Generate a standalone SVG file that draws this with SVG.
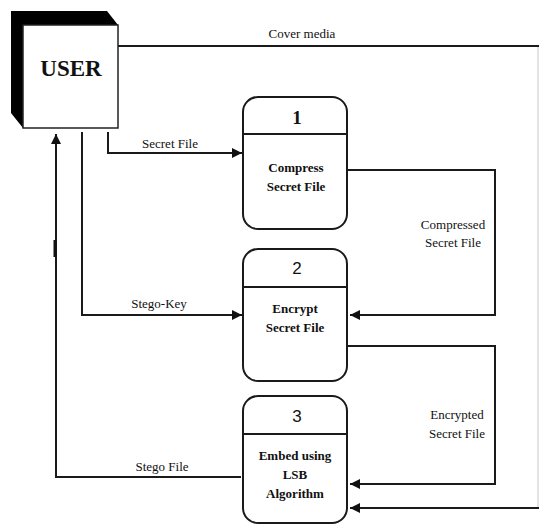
<svg xmlns="http://www.w3.org/2000/svg" width="539" height="525" viewBox="0 0 539 525">
<style>
.ln{fill:none;stroke:#1a1a1a;stroke-width:2}
.box{fill:#fff;stroke:#1a1a1a;stroke-width:2}
.lbl{font-family:'Liberation Serif','Times New Roman','DejaVu Serif',serif;font-size:13px;fill:#111;text-anchor:middle}
.bl{font-family:'Liberation Serif','Times New Roman','DejaVu Serif',serif;font-size:13px;font-weight:bold;fill:#111;text-anchor:middle}
.num{font-family:'Liberation Sans',Arial,sans-serif;font-size:17px;fill:#111;text-anchor:middle}
.big{font-family:'Liberation Serif','Times New Roman','DejaVu Serif',serif;font-weight:bold;fill:#111;text-anchor:middle}
</style>
<defs>
<marker id="ah" viewBox="0 0 10 10" refX="10" refY="5" markerWidth="5" markerHeight="5" orient="auto">
<path d="M0,0L10,5L0,10z" fill="#111"/>
</marker>
</defs>
<rect width="539" height="525" fill="#fff"/>
<g id="connectors">
<line x1="538" y1="46" x2="538" y2="508" stroke="#c8c8c8" stroke-width="1"/>
<path class="ln" d="M118,46H539"/>
<path class="ln" d="M108,132V153H242" marker-end="url(#ah)"/>
<path class="ln" d="M82,132V315H242" marker-end="url(#ah)"/>
<path class="ln" d="M241,477H56V134" marker-end="url(#ah)"/>
<rect x="53.5" y="240" width="3" height="17" fill="#111"/>
<path class="ln" d="M348,170H495V315H350" marker-end="url(#ah)"/>
<path class="ln" d="M348,346H495V484H350" marker-end="url(#ah)"/>
<path class="ln" d="M539,508H350" marker-end="url(#ah)"/>
<text class="lbl" x="302" y="38">Cover media</text>
<text class="lbl" x="170" y="148">Secret File</text>
<text class="lbl" x="159" y="308">Stego-Key</text>
<text class="lbl" x="162" y="471">Stego File</text>
<text class="lbl" x="453" y="229">Compressed</text>
<text class="lbl" x="453" y="247">Secret File</text>
<text class="lbl" x="457" y="419">Encrypted</text>
<text class="lbl" x="457" y="438">Secret File</text>
</g>
<g id="user">
<polygon points="11,11 107,11 118,25 23,25 23,128 11,113" fill="#000"/>
<rect x="23" y="25" width="95" height="103" fill="#fff" stroke="#222" stroke-width="1.5"/>
<text class="big" x="71" y="76" font-size="23">USER</text>
</g>
<g id="p1">
<rect class="box" x="243" y="97" width="104" height="132" rx="15"/>
<line class="ln" x1="243" y1="134" x2="347" y2="134"/>
<text class="big" x="297" y="124" font-size="19">1</text>
<text class="bl" x="296" y="172">Compress</text>
<text class="bl" x="296" y="191">Secret File</text>
</g>
<g id="p2">
<rect class="box" x="243" y="249" width="104" height="132" rx="15"/>
<line class="ln" x1="243" y1="287" x2="347" y2="287"/>
<text class="num" x="297" y="274">2</text>
<text class="bl" x="295" y="313">Encrypt</text>
<text class="bl" x="295" y="332">Secret File</text>
</g>
<g id="p3">
<rect class="box" x="243" y="396" width="104" height="127" rx="15"/>
<line class="ln" x1="243" y1="434" x2="347" y2="434"/>
<text class="num" x="297" y="422">3</text>
<text class="bl" x="295" y="460">Embed using</text>
<text class="bl" x="295" y="479">LSB</text>
<text class="bl" x="295" y="498">Algorithm</text>
</g>
</svg>
